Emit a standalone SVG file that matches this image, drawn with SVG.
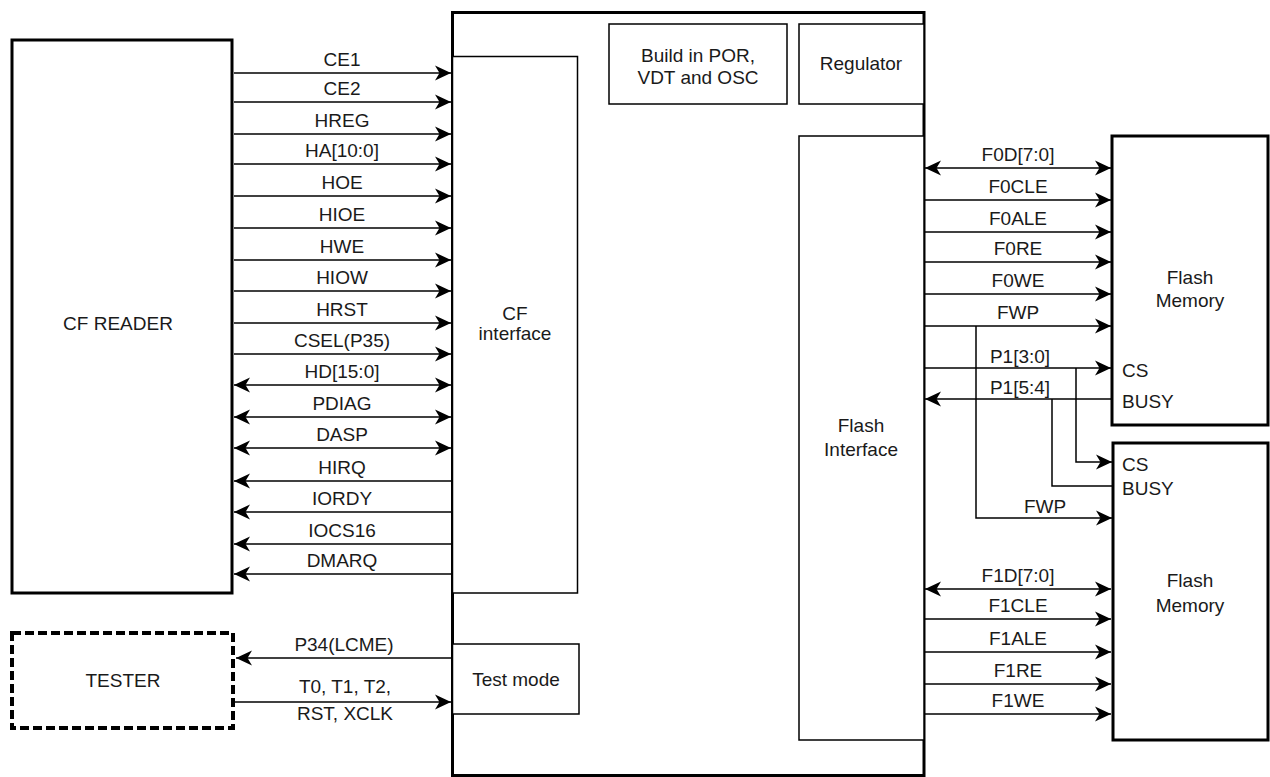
<svg xmlns="http://www.w3.org/2000/svg" width="1270" height="777" viewBox="0 0 1270 777">
<style>
.thick{fill:#fff;stroke:#000;stroke-width:3}
.thin{fill:#fff;stroke:#000;stroke-width:1.5}
.dash{fill:#fff;stroke:#000;stroke-width:4;stroke-dasharray:9 4}
.c line,.c path{stroke:#000;stroke-width:1.5;fill:none}
text{font-family:"Liberation Sans",Arial,sans-serif;font-size:19px;fill:#1a1a1a;text-anchor:middle}
.l{text-anchor:start}
</style>
<defs>
<marker id="ah" markerUnits="userSpaceOnUse" markerWidth="18" markerHeight="18" viewBox="0 0 18 18" refX="16" refY="9" orient="auto-start-reverse">
<path d="M16,9 L0,1.5 L4.5,9 L0,16.5 Z" fill="#000" stroke="none"/>
</marker>
</defs>
<rect width="1270" height="777" fill="#fff"/>

<g id="chip"><rect class="thick" x="452.5" y="12.5" width="471.5" height="763"/></g>
<g id="cf-reader"><rect class="thick" x="12" y="40" width="220" height="553"/><text x="118" y="330">CF READER</text></g>
<g id="tester"><rect class="dash" x="12" y="633" width="221" height="95"/><text x="123" y="687">TESTER</text></g>
<g id="cf-interface"><rect class="thin" x="452.5" y="56.5" width="125" height="536.5"/><text x="515" y="320">CF</text><text x="515" y="340">interface</text></g>
<g id="por"><rect class="thin" x="609" y="24" width="178" height="80"/><text x="698" y="62">Build in POR,</text><text x="698" y="84">VDT and OSC</text></g>
<g id="regulator"><rect class="thin" x="799" y="24" width="125" height="80"/><text x="861" y="70">Regulator</text></g>
<g id="flash-interface"><rect class="thin" x="799" y="136" width="125" height="604"/><text x="861" y="432">Flash</text><text x="861" y="456">Interface</text></g>
<g id="test-mode"><rect class="thin" x="452.5" y="644" width="126.5" height="70"/><text x="516" y="686">Test mode</text></g>
<g id="flash-memory-0"><rect class="thick" x="1112" y="136" width="156" height="289"/><text x="1190" y="284">Flash</text><text x="1190" y="307">Memory</text><text class="l" x="1122" y="377">CS</text><text class="l" x="1122" y="408">BUSY</text></g>
<g id="flash-memory-1"><rect class="thick" x="1113" y="443" width="155" height="297"/><text x="1190" y="587">Flash</text><text x="1190" y="612">Memory</text><text class="l" x="1122" y="471">CS</text><text class="l" x="1122" y="495">BUSY</text></g>

<g id="connectors" class="c">
<line x1="234" y1="73" x2="451" y2="73" marker-end="url(#ah)"/>
<line x1="234" y1="102" x2="451" y2="102" marker-end="url(#ah)"/>
<line x1="234" y1="134" x2="451" y2="134" marker-end="url(#ah)"/>
<line x1="234" y1="164" x2="451" y2="164" marker-end="url(#ah)"/>
<line x1="234" y1="196" x2="451" y2="196" marker-end="url(#ah)"/>
<line x1="234" y1="228" x2="451" y2="228" marker-end="url(#ah)"/>
<line x1="234" y1="260" x2="451" y2="260" marker-end="url(#ah)"/>
<line x1="234" y1="291" x2="451" y2="291" marker-end="url(#ah)"/>
<line x1="234" y1="323" x2="451" y2="323" marker-end="url(#ah)"/>
<line x1="234" y1="354" x2="451" y2="354" marker-end="url(#ah)"/>
<line x1="234" y1="385" x2="451" y2="385" marker-start="url(#ah)" marker-end="url(#ah)"/>
<line x1="234" y1="417" x2="451" y2="417" marker-start="url(#ah)" marker-end="url(#ah)"/>
<line x1="234" y1="448" x2="451" y2="448" marker-start="url(#ah)" marker-end="url(#ah)"/>
<line x1="451" y1="481" x2="234" y2="481" marker-end="url(#ah)"/>
<line x1="451" y1="512" x2="234" y2="512" marker-end="url(#ah)"/>
<line x1="451" y1="544" x2="234" y2="544" marker-end="url(#ah)"/>
<line x1="451" y1="574" x2="234" y2="574" marker-end="url(#ah)"/>
<line x1="451" y1="658" x2="236" y2="658" marker-end="url(#ah)"/>
<line x1="235" y1="702" x2="451" y2="702" marker-end="url(#ah)"/>

<line x1="925" y1="168" x2="1111" y2="168" marker-start="url(#ah)" marker-end="url(#ah)"/>
<line x1="925" y1="200" x2="1111" y2="200" marker-end="url(#ah)"/>
<line x1="925" y1="232" x2="1111" y2="232" marker-end="url(#ah)"/>
<line x1="925" y1="262" x2="1111" y2="262" marker-end="url(#ah)"/>
<line x1="925" y1="294" x2="1111" y2="294" marker-end="url(#ah)"/>
<line x1="925" y1="326" x2="1111" y2="326" marker-end="url(#ah)"/>
<path d="M976,326 V518 H1112" marker-end="url(#ah)"/>
<line x1="925" y1="368" x2="1111" y2="368" marker-end="url(#ah)"/>
<path d="M1076,368 V462 H1112" marker-end="url(#ah)"/>
<line x1="1111" y1="399" x2="925" y2="399" marker-end="url(#ah)"/>
<path d="M1052,399 V486 H1113"/>
<line x1="925" y1="589" x2="1111" y2="589" marker-start="url(#ah)" marker-end="url(#ah)"/>
<line x1="925" y1="619" x2="1111" y2="619" marker-end="url(#ah)"/>
<line x1="925" y1="652" x2="1111" y2="652" marker-end="url(#ah)"/>
<line x1="925" y1="684" x2="1111" y2="684" marker-end="url(#ah)"/>
<line x1="925" y1="714" x2="1111" y2="714" marker-end="url(#ah)"/>
</g>

<g id="labels">
<text x="342" y="66">CE1</text>
<text x="342" y="95">CE2</text>
<text x="342" y="127">HREG</text>
<text x="342" y="157">HA[10:0]</text>
<text x="342" y="189">HOE</text>
<text x="342" y="221">HIOE</text>
<text x="342" y="253">HWE</text>
<text x="342" y="284">HIOW</text>
<text x="342" y="316">HRST</text>
<text x="342" y="347">CSEL(P35)</text>
<text x="342" y="378">HD[15:0]</text>
<text x="342" y="410">PDIAG</text>
<text x="342" y="441">DASP</text>
<text x="342" y="474">HIRQ</text>
<text x="342" y="505">IORDY</text>
<text x="342" y="537">IOCS16</text>
<text x="342" y="567">DMARQ</text>
<text x="344" y="651">P34(LCME)</text>
<text x="345" y="693">T0, T1, T2,</text>
<text x="345" y="720">RST, XCLK</text>
<text x="1018" y="161">F0D[7:0]</text>
<text x="1018" y="193">F0CLE</text>
<text x="1018" y="225">F0ALE</text>
<text x="1018" y="255">F0RE</text>
<text x="1018" y="287">F0WE</text>
<text x="1018" y="319">FWP</text>
<text x="1020" y="363">P1[3:0]</text>
<text x="1020" y="394">P1[5:4]</text>
<text x="1045" y="513">FWP</text>
<text x="1018" y="582">F1D[7:0]</text>
<text x="1018" y="612">F1CLE</text>
<text x="1018" y="645">F1ALE</text>
<text x="1018" y="677">F1RE</text>
<text x="1018" y="707">F1WE</text>
</g>
</svg>
